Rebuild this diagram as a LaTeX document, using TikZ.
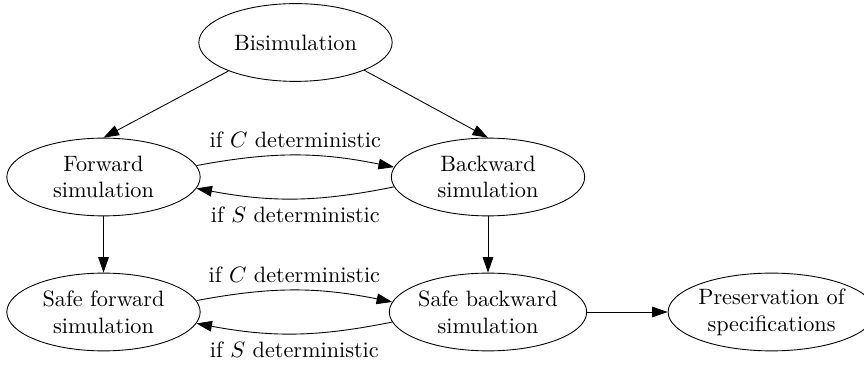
\documentclass[tikz,border=0pt]{standalone}
\usepackage{tikz}
\usetikzlibrary{positioning, arrows.meta, shapes.geometric}
\tikzset{>={Triangle[length=7pt,width=4.8pt]}}

\begin{document}
\begin{tikzpicture}
    [
        x=0.45pt, y=-0.45pt,
        sim_node/.style={ellipse, draw=black!100, fill=black!0, inner sep=0pt, align=center, minimum height=35pt, minimum width=87pt},
        wide_node/.style={sim_node, minimum width=83pt},
        if_label/.style={font=\normalsize},
    ]

  \useasboundingbox (0,0) rectangle (864,366);

  \node[sim_node] (Bis) at (295.5,42.5) {Bisimulation};
  \node[sim_node] (Fwd) at (103.5,177) {Forward\\simulation};
  \node[sim_node] (Bwd) at (488,177) {Backward\\simulation};
  \node[sim_node] (SFwd) at (103.5,312) {Safe forward\\simulation};
  \node[sim_node] (SBwd) at (488,312) {Safe backward\\simulation};
  \node[wide_node] (Pres) at (771.5,312) {Preservation of\\specifications};

  \draw[->] (Bis.203) -- (Fwd.north);
  \draw[->] (Bis.338) -- (Bwd.north);
  \draw[->] (Fwd) -- (SFwd);
  \draw[->] (Bwd) -- (SBwd);
  \draw[->] (SBwd) -- (Pres);

  \draw[->] (Fwd.7) to[bend left=11] node[above, if_label] {if $C$ deterministic} (Bwd.174);
  \draw[->] (Bwd.186) to[bend left=11] node[below, if_label] {if $S$ deterministic} (Fwd.353);
  \draw[->] (SFwd.7) to[bend left=11] node[above, if_label] {if $C$ deterministic} (SBwd.174);
  \draw[->] (SBwd.186) to[bend left=11] node[below, if_label] {if $S$ deterministic} (SFwd.353);
\end{tikzpicture}
\end{document}
